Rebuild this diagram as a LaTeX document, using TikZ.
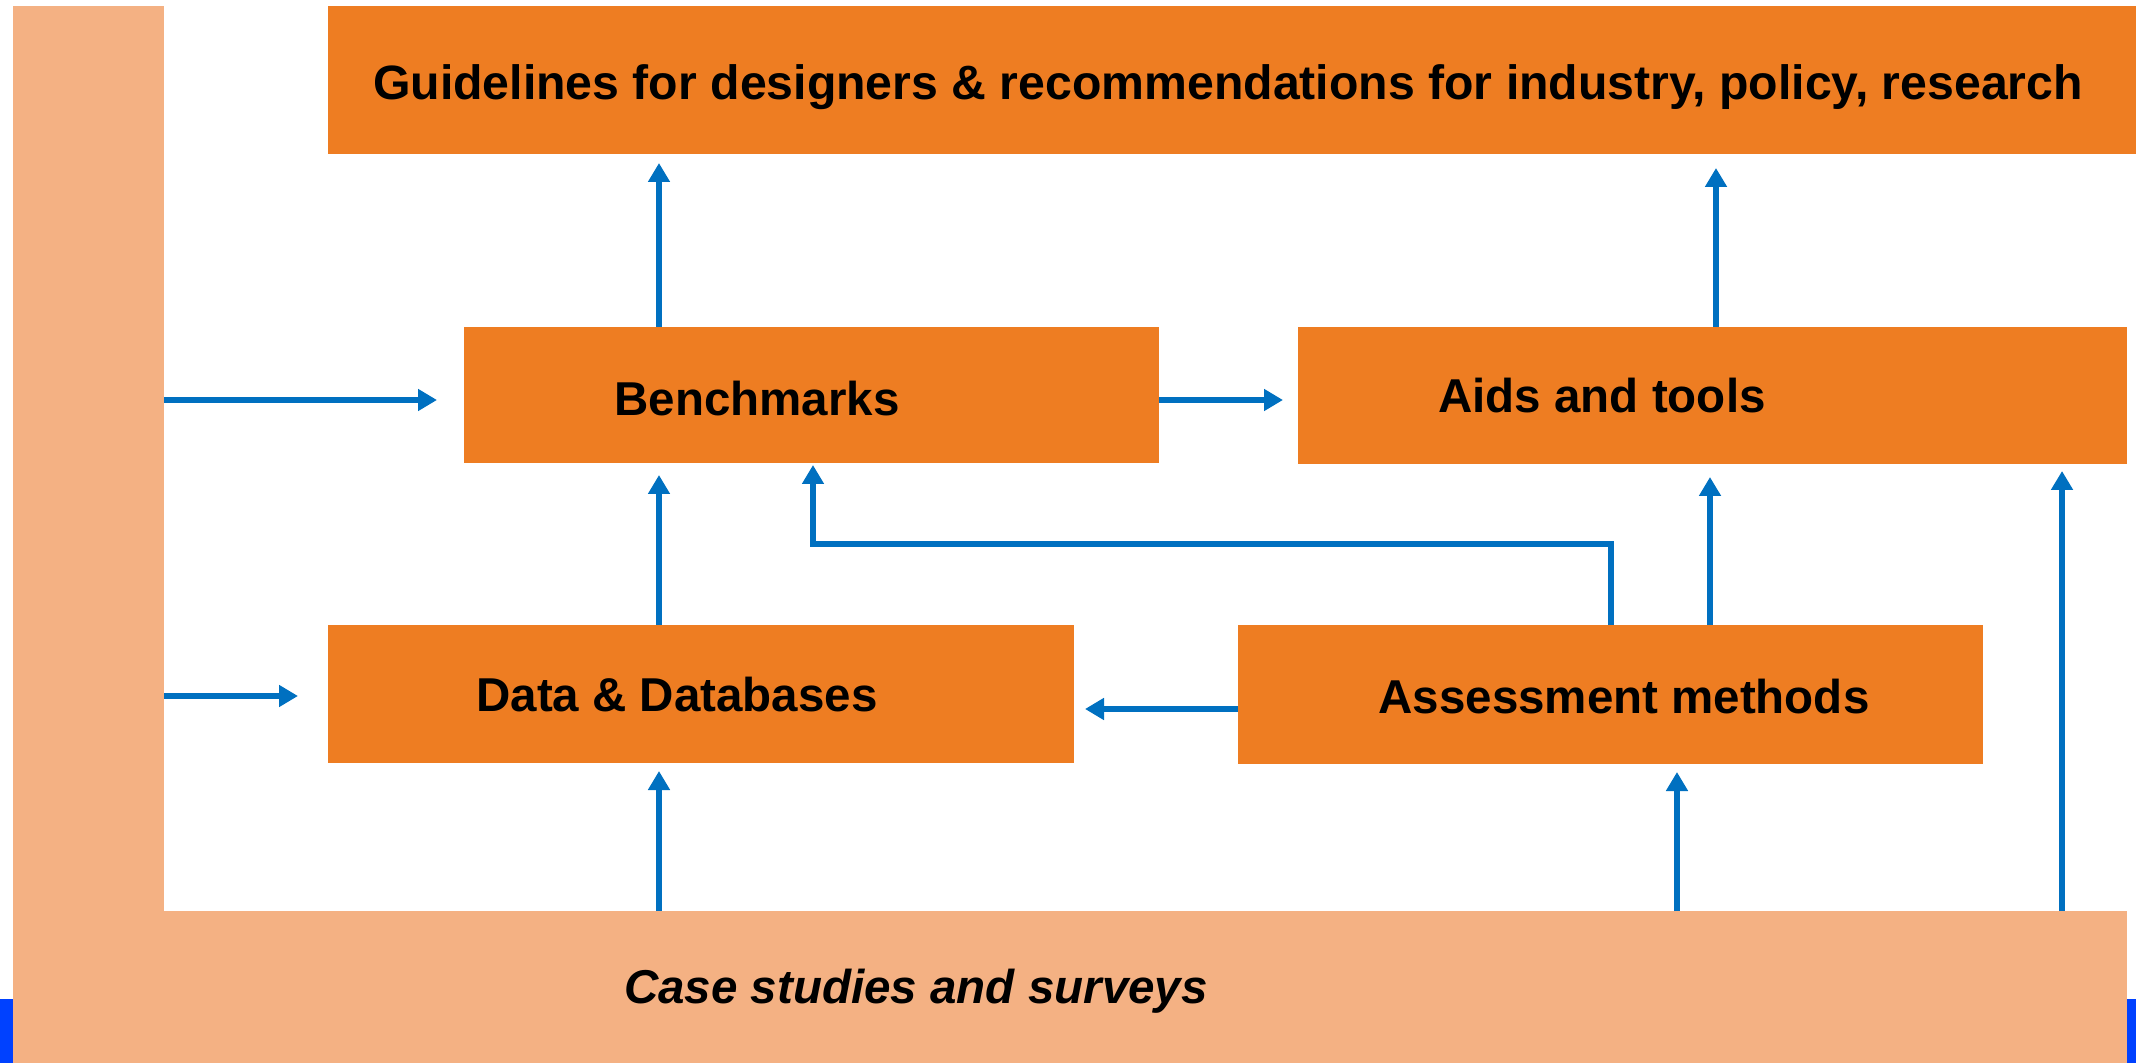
\documentclass[tikz,border=0pt]{standalone}
\usepackage{fontspec}
\setmainfont{Liberation Sans}
\usetikzlibrary{arrows.meta}
\definecolor{boxorange}{RGB}{238,125,34}
\definecolor{salmon}{RGB}{244,177,131}
\definecolor{arrblue}{RGB}{0,112,192}
\definecolor{stripblue}{RGB}{0,65,255}
\tikzset{
  rbox/.style={fill=#1, draw=none, inner sep=0pt, outer sep=0pt, anchor=north west},
  lbl/.style={inner sep=0pt, anchor=base, font=\fontsize{23.75pt}{28pt}\selectfont\bfseries},
  arr/.style={draw=arrblue, line width=2.7pt, -{Triangle[length=9.5pt,width=10.5pt]}}
}
\begin{document}
\begin{tikzpicture}[x=0.5pt,y=-0.5pt]
\useasboundingbox (0,0) rectangle (2136,1063);
% background bands
\node[rbox=stripblue, minimum width=6.5pt, minimum height=32pt] (stripL) at (0,999) {};
\node[rbox=stripblue, minimum width=4.5pt, minimum height=32pt] (stripR) at (2127,999) {};
\node[rbox=salmon, minimum width=75.5pt, minimum height=528.5pt] (sl) at (13,6) {};
\node[rbox=salmon, minimum width=1057pt, minimum height=76pt] (sb) at (13,911) {};
% boxes
\node[rbox=boxorange, minimum width=904pt, minimum height=74pt] (guid) at (328,6) {};
\node[rbox=boxorange, minimum width=347.5pt, minimum height=68pt] (bench) at (464,327) {};
\node[rbox=boxorange, minimum width=414.5pt, minimum height=68.5pt] (aids) at (1298,327) {};
\node[rbox=boxorange, minimum width=373pt, minimum height=69pt] (data) at (328,625) {};
\node[rbox=boxorange, minimum width=372.5pt, minimum height=69.5pt] (assess) at (1238,625) {};
% labels
\node[lbl, font=\fontsize{24.1pt}{28pt}\selectfont\bfseries] (guidT) at (1228,100) {Guidelines for designers \& recommendations for industry, policy, research};
\node[lbl] (benchT) at (757,416) {Benchmarks};
\node[lbl] (aidsT) at (1602,413) {Aids and tools};
\node[lbl] (dataT) at (677,711) {Data \& Databases};
\node[lbl] (assessT) at (1624,713) {Assessment methods};
\node[lbl, font=\fontsize{23.75pt}{28pt}\selectfont\bfseries\itshape] (caseT) at (916,1003) {Case studies and surveys};
% helper coordinates
\coordinate (cA) at (659,0);
\coordinate (cB) at (1716,0);
\coordinate (cE) at (1611,0);
\coordinate (cF) at (813,0);
\coordinate (cG) at (1710,0);
\coordinate (cK) at (1677,0);
\coordinate (cL) at (2062,0);
\coordinate (rA) at (0,400);
\coordinate (rE) at (0,544);
\coordinate (rH) at (0,709);
\coordinate (rI) at (0,696);
% connectors
\draw[arr, shorten >=4.5pt] (bench.north -| cA) -- (guid.south -| cA);
\draw[arr, shorten >=7pt] (aids.north -| cB) -- (guid.south -| cB);
\draw[arr, shorten >=13.5pt] (sl.east |- rA) -- (bench.west |- rA);
\draw[arr, shorten >=7.5pt] (bench.east |- rA) -- (aids.west |- rA);
\draw[arr, shorten >=6pt] (data.north -| cA) -- (bench.south -| cA);
\draw[arr, shorten >=1pt] (assess.north -| cE) -- (cE |- rE) -- (cF |- rE) -- (bench.south -| cF);
\draw[arr, shorten >=6.5pt] (assess.north -| cG) -- (aids.south -| cG);
\draw[arr, shorten >=5.5pt] (assess.west |- rH) -- (data.east |- rH);
\draw[arr, shorten >=15pt] (sl.east |- rI) -- (data.west |- rI);
\draw[arr, shorten >=4pt] (sb.north -| cA) -- (data.south -| cA);
\draw[arr, shorten >=4pt] (sb.north -| cK) -- (assess.south -| cK);
\draw[arr, shorten >=3.5pt] (sb.north -| cL) -- (aids.south -| cL);
\end{tikzpicture}
\end{document}
